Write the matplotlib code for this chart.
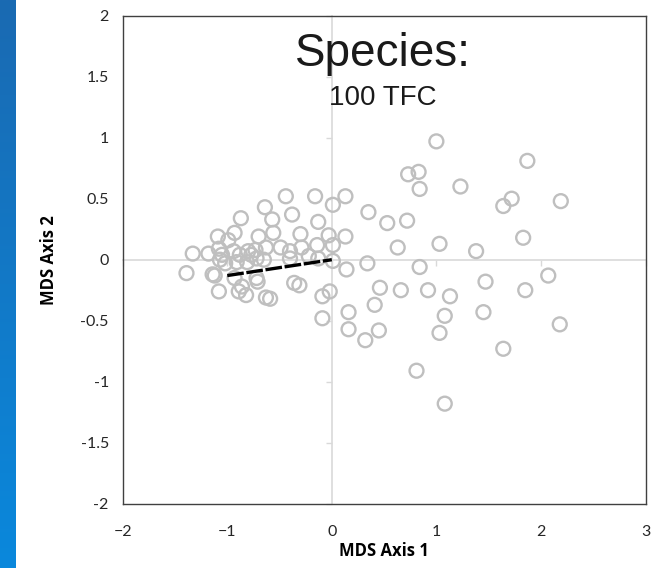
import numpy as np
import matplotlib.pyplot as plt
from matplotlib.colors import LinearSegmentedColormap

# MDS site scores
axis1 = [-0.44, -0.16, -0.64, -0.38, -0.87, -0.57, -0.13, -0.93, -1.09, -0.70,
         -0.56, -0.30, -0.03, -0.99, -0.63, -0.49, -0.40, -0.29, -0.14, -1.33,
         -1.18, -1.08, -1.05, -1.07, -0.94, -0.88, -0.80, -0.72, -0.91, -0.81,
         -1.02, -0.73, -0.77, -0.65, -0.40, -0.22, -0.13, -1.39, -1.14, -1.12,
         -0.93, -0.72, -0.71, -0.86, -1.08, -0.89, -0.82, -0.63, -0.59, -0.36,
         -0.31, -0.09, -0.02, -0.09,
         1.00, 1.87, 0.73, 0.83, 0.84, 1.23, 1.72, 1.64, 2.19, 0.13,
         0.01, 0.35, 0.53, 0.72, 1.83, 1.03, 0.63, 1.38, 0.13, 0.01,
         0.01, 0.34, 0.14, 0.84, 2.07, 1.47, 0.46, 0.66, 0.92, 1.13,
         1.85, 0.41, 0.16, 1.08, 1.45, 0.16, 0.45, 0.32, 1.03, 2.18,
         1.64, 0.81, 1.08]
axis2 = [0.52, 0.52, 0.43, 0.37, 0.34, 0.33, 0.31, 0.22, 0.19, 0.19,
         0.22, 0.21, 0.20, 0.16, 0.10, 0.10, 0.07, 0.10, 0.12, 0.05,
         0.05, 0.09, 0.04, 0.00, 0.07, 0.04, 0.07, 0.01, -0.02, -0.02,
         -0.03, 0.08, 0.04, 0.00, 0.01, 0.03, 0.01, -0.11, -0.12, -0.13,
         -0.15, -0.15, -0.18, -0.22, -0.26, -0.26, -0.29, -0.31, -0.32, -0.19,
         -0.21, -0.30, -0.26, -0.48,
         0.97, 0.81, 0.70, 0.72, 0.58, 0.60, 0.50, 0.44, 0.48, 0.52,
         0.45, 0.39, 0.30, 0.32, 0.18, 0.13, 0.10, 0.07, 0.19, 0.12,
         -0.01, -0.03, -0.08, -0.06, -0.13, -0.18, -0.23, -0.25, -0.25, -0.30,
         -0.25, -0.37, -0.43, -0.46, -0.43, -0.57, -0.58, -0.66, -0.60, -0.53,
         -0.73, -0.91, -1.18]

# TFC vector
vec_x = [-1.0, 0.0]
vec_y = [-0.13, 0.0]

xticks = [-2, -1, 0, 1, 2, 3]
yticks = [-2, -1.5, -1, -0.5, 0, 0.5, 1, 1.5, 2]
ytick_labels = ['-2', '-1.5', '-1', '-0.5', '0', '0.5', '1', '1.5', '2']

W, H = 667, 568
fig = plt.figure(figsize=(W / 100, H / 100), dpi=100)
fig.patch.set_facecolor('white')

# blue slide strip on the left
strip = fig.add_axes([0, 0, 16 / W, 1])
grad = np.linspace(0, 1, 256).reshape(-1, 1)
cmap = LinearSegmentedColormap.from_list('slide', ['#1a6ab2', '#0a88dc'])
strip.imshow(grad, aspect='auto', cmap=cmap, extent=[0, 1, 0, 1], origin='upper')
strip.axis('off')

pos = [122.7 / W, 1 - 503.7 / H, (645.5 - 122.7) / W, (503.7 - 15.7) / H]
ax = fig.add_axes(pos)
ax.set_xlim(-2, 3)
ax.set_ylim(-2, 2)

# axes crossing at zero, light gray with small outward ticks
ax0 = fig.add_axes(pos, sharex=ax, sharey=ax)
ax0.patch.set_alpha(0)
for s in ['top', 'right']:
    ax0.spines[s].set_visible(False)
ax0.spines['left'].set_position(('data', 0))
ax0.spines['bottom'].set_position(('data', 0))
for s in ['left', 'bottom']:
    ax0.spines[s].set_color('#d9d9d9')
    ax0.spines[s].set_linewidth(1.2)
ax0.tick_params(which='both', direction='out', length=4.5, color='#d9d9d9',
                labelleft=False, labelbottom=False, width=1)
ax0.set_xticks([-1, 1, 2])
ax0.set_yticks([-1.5, -1, -0.5, 0.5, 1, 1.5])
ax0.set_zorder(0)
ax.set_zorder(1)
ax.patch.set_alpha(0)

ax.scatter(axis1, axis2, s=100, facecolors='none', edgecolors='#bfbfbf',
           linewidths=1.7, zorder=3)
ax.plot(vec_x, vec_y, color='black', lw=2.4, dashes=(5, 0.8), zorder=4)

for s in ax.spines.values():
    s.set_color('#404040')
    s.set_linewidth(1)

ax.set_xticks(xticks)
ax.set_yticks(yticks)
ax.set_yticklabels(ytick_labels)
ax.tick_params(length=0, labelsize=11.5, labelcolor='#262626')
ax.tick_params(axis='y', pad=10)
ax.tick_params(axis='x', pad=15)
for lab in ax.get_xticklabels() + ax.get_yticklabels():
    lab.set_fontfamily('Lato')

ax.set_xlabel('MDS Axis 1', fontsize=12, fontweight='bold', family='Open Sans')
ax.set_ylabel('MDS Axis 2', fontsize=12, fontweight='bold', family='Open Sans')
ax.xaxis.set_label_coords(0.5, -(542 - 503.7) / 488)
ax.yaxis.set_label_coords(-(122.7 - 58) / 522.8, 0.5)

ax.text(0.498, 0.897, 'Species:', transform=ax.transAxes, ha='center',
        va='baseline', fontsize=33, family='Liberation Sans', color='#1a1a1a',
        zorder=5)
ax.text(0.498, 0.817, '100 TFC', transform=ax.transAxes, ha='center',
        va='baseline', fontsize=20, family='Liberation Sans', color='#1a1a1a',
        zorder=5)

fig.savefig('out.png', dpi=100)
